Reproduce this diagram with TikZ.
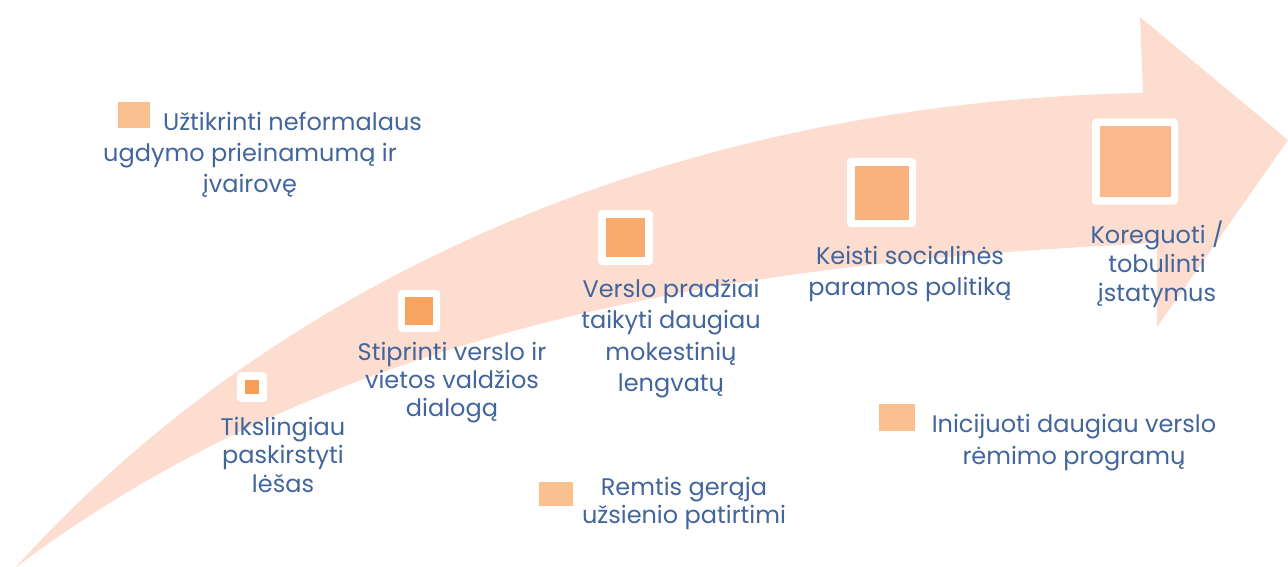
\documentclass[tikz,border=0pt]{standalone}
\usepackage{fontspec}
\setmainfont{Poppins}
\definecolor{arrowpink}{HTML}{FCDDD0}
\definecolor{txtblue}{HTML}{42659C}
\definecolor{sqa}{HTML}{F89D55}
\definecolor{sqb}{HTML}{F8A461}
\definecolor{sqc}{HTML}{F9AB6D}
\definecolor{sqd}{HTML}{F9B27B}
\definecolor{sqe}{HTML}{F9B98A}
\definecolor{sqf}{HTML}{FAC090}
\begin{document}
\begin{tikzpicture}[x=1pt,y=-1pt,
  frame/.style={fill=white, draw=none, rounded corners=4pt, inner sep=0pt},
  core/.style={draw=none, inner sep=0pt},
  bullet/.style={fill=sqf, draw=none, inner sep=0pt},
  label/.style={text=txtblue, align=center, inner sep=0pt, anchor=north}
]
\useasboundingbox (0,0) rectangle (1288,566);
% curved arrow
\fill[arrowpink] (15,568) .. controls (365,303.5) and (807,260) .. (1157,243)
  -- (1157,327) -- (1288,140) -- (1140,17) -- (1143,93)
  .. controls (743,100) and (315,236) .. (15,568) -- cycle;
% framed squares on the arrow
\node[frame, minimum size=30pt] (f1) at (252,387) {};
\node[core, fill=sqa, minimum size=14pt] (s1) at (f1) {};
\node[frame, minimum size=42pt] (f2) at (419,311) {};
\node[core, fill=sqb, minimum size=28pt] (s2) at (f2) {};
\node[frame, minimum size=55pt] (f3) at (625.5,237.5) {};
\node[core, fill=sqc, minimum size=39pt] (s3) at (f3) {};
\node[frame, minimum size=69pt] (f4) at (881.5,192.5) {};
\node[core, fill=sqd, minimum size=54pt] (s4) at (f4) {};
\node[frame, minimum size=86pt] (f5) at (1135,161.5) {};
\node[core, fill=sqe, minimum size=71pt] (s5) at (f5) {};
% labels on the arrow
\node[label, font=\fontsize{24}{28.5}\selectfont] (t1) at (283,417) {Tikslingiau\\paskirstyti\\lėšas};
\node[label, font=\fontsize{24}{28}\selectfont] (t2) at (452,342) {Stiprinti verslo ir\\vietos valdžios\\dialogą};
\node[label, font=\fontsize{24}{31.5}\selectfont] (t3) at (671,279) {Verslo pradžiai\\taikyti daugiau\\mokestinių\\lengvatų};
\node[label, font=\fontsize{24}{31}\selectfont] (t4) at (910,246) {Keisti socialinės\\paramos politiką};
\node[label, font=\fontsize{24}{29}\selectfont] (t5) at (1157,221) {Koreguoti /\\tobulinti\\įstatymus};
% free bullets with labels
\node[bullet, minimum width=32pt, minimum height=26pt] (b1) at (134,115) {};
\node[label, font=\fontsize{24}{31}\selectfont] (t6) at (250,112) {\hspace*{85pt}Užtikrinti neformalaus\\ugdymo prieinamumą ir\\įvairovę};
\node[bullet, minimum width=36pt, minimum height=27pt] (b2) at (897,417.5) {};
\node[label, font=\fontsize{24}{32}\selectfont] (t7) at (1074,414) {Inicijuoti daugiau verslo\\rėmimo programų};
\node[bullet, minimum width=34pt, minimum height=24pt] (b3) at (556,494) {};
\node[label, font=\fontsize{24}{28}\selectfont] (t8) at (684,477) {Remtis gerąja\\užsienio patirtimi};
\end{tikzpicture}
\end{document}
